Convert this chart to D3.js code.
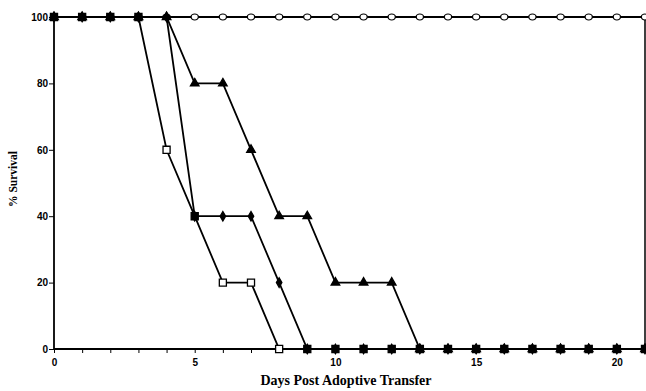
<!DOCTYPE html>
<html>
<head>
<meta charset="utf-8">
<script src="https://cdn.jsdelivr.net/npm/d3@7"></script>
<style>
  body { margin: 0; background: #fff; }
  svg { display: block; }
</style>
</head>
<body>
<div id="chart"></div>
<script>
// days after transfer
const days = d3.range(0, 22);

// % survival per group
const openCircle = [100, 100, 100, 100, 100, 100, 100, 100, 100, 100, 100, 100, 100, 100, 100, 100, 100, 100, 100, 100, 100, 100];
const openSquare = [100, 100, 100, 100, 60, 40, 20, 20, 0, 0, 0, 0, 0, 0, 0, 0, 0, 0, 0, 0, 0, 0];
const filledDiamond = [100, 100, 100, 100, 100, 40, 40, 40, 20, 0, 0, 0, 0, 0, 0, 0, 0, 0, 0, 0, 0, 0];
const filledTriangle = [100, 100, 100, 100, 100, 80, 80, 60, 40, 40, 20, 20, 20, 0, 0, 0, 0, 0, 0, 0, 0, 0];

const xTicks = [0, 5, 10, 15, 20];
const yTicks = [0, 20, 40, 60, 80, 100];

// drawing order: later ones sit on top
const series = [
  { name: 'circle', values: openCircle, symbol: 'circle', filled: false },
  { name: 'square', values: openSquare, symbol: 'square', filled: false },
  { name: 'triangle', values: filledTriangle, symbol: 'triangle', filled: true },
  { name: 'diamond', values: filledDiamond, symbol: 'diamond', filled: true }
];

const width = 646;
const height = 391;

const x = d3.scaleLinear().domain([0, 21]).range([54, 645]);
const y = d3.scaleLinear().domain([0, 100]).range([349, 17]);

const svg = d3.select('#chart')
  .append('svg')
  .attr('width', width)
  .attr('height', height);

// axes
const xAxis = svg.append('g')
  .attr('transform', 'translate(0,' + y(0) + ')')
  .call(d3.axisBottom(x).tickValues(days).tickSize(4).tickFormat(d => xTicks.includes(d) ? d : ''));
xAxis.select('.domain').attr('stroke-width', 1.8).attr('d', 'M' + x(0) + ',0H' + x(21));
xAxis.selectAll('.tick line').attr('stroke-width', 1);
xAxis.selectAll('.tick text')
  .attr('dy', '1em')
  .style('font-family', 'Liberation Sans, Arial, sans-serif')
  .style('font-weight', 'bold')
  .style('font-size', '10px')
  .attr('fill', '#000');

const yAxis = svg.append('g')
  .attr('transform', 'translate(' + x(0) + ',0)')
  .call(d3.axisLeft(y).tickValues(yTicks).tickSize(5));
yAxis.select('.domain').attr('stroke-width', 1.8).attr('d', 'M0,' + y(0) + 'V' + y(100));
yAxis.selectAll('.tick text')
  .attr('x', -6)
  .style('font-family', 'Liberation Sans, Arial, sans-serif')
  .style('font-weight', 'bold')
  .style('font-size', '10px')
  .attr('fill', '#000');

// right edge line
svg.append('line')
  .attr('x1', x(21)).attr('x2', x(21))
  .attr('y1', y(0)).attr('y2', y(100))
  .attr('stroke', '#000')
  .attr('stroke-width', 1.5);

// lines
const line = d3.line()
  .x((d, i) => x(days[i]))
  .y(d => y(d));

svg.selectAll('.series')
  .data(series)
  .enter()
  .append('path')
  .attr('class', 'series')
  .attr('d', d => line(d.values))
  .attr('fill', 'none')
  .attr('stroke', '#000')
  .attr('stroke-width', 1.8);

// markers
const symbolTypes = {
  circle: d3.symbolCircle,
  triangle: d3.symbolTriangle,
  diamond: d3.symbolDiamond,
  square: d3.symbolSquare
};
const symbolSizes = { circle: 42, triangle: 32, diamond: 26, square: 50 };

// an open marker that is covered by a filled one prints as a solid blob
const filledSeries = series.filter(s => s.filled);
const isCovered = (s, i) => filledSeries.some(f => f !== s && f.values[i] === s.values[i]);

series.forEach(s => {
  svg.append('g')
    .selectAll('path')
    .data(s.values)
    .enter()
    .append('path')
    .attr('transform', (d, i) => 'translate(' + x(days[i]) + ',' + y(d) + ')' + (s.symbol === 'circle' ? ' scale(1,0.8)' : ''))
    .attr('d', d3.symbol().type(symbolTypes[s.symbol]).size(symbolSizes[s.symbol]))
    .attr('fill', (d, i) => (s.filled || isCovered(s, i)) ? '#000' : '#fff')
    .attr('stroke', '#000')
    .attr('stroke-width', 1.3);
});

// axis titles
svg.append('text')
  .attr('x', 346)
  .attr('y', 385)
  .attr('text-anchor', 'middle')
  .style('font-family', 'Liberation Serif, Times New Roman, serif')
  .style('font-weight', 'bold')
  .style('font-size', '14px')
  .text('Days Post Adoptive Transfer');

svg.append('text')
  .attr('transform', 'translate(17,179) rotate(-90)')
  .attr('text-anchor', 'middle')
  .style('font-family', 'Liberation Serif, Times New Roman, serif')
  .style('font-weight', 'bold')
  .style('font-size', '11.5px')
  .text('% Survival');
</script>
</body>
</html>
